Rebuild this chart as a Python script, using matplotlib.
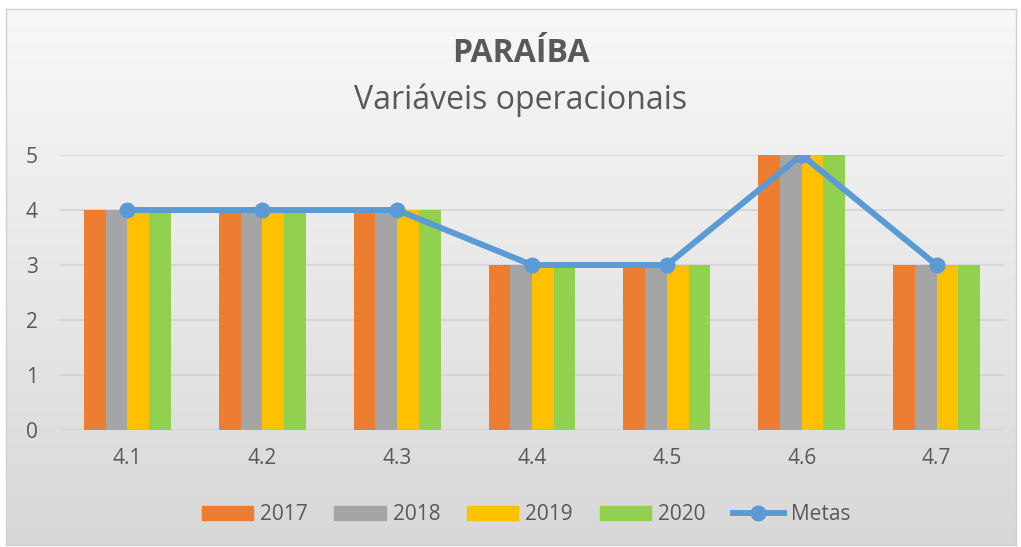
import numpy as np
import matplotlib
matplotlib.use('Agg')
from matplotlib import pyplot as plt
from matplotlib.lines import Line2D
from matplotlib.patches import Patch

# Data
categories = ['4.1', '4.2', '4.3', '4.4', '4.5', '4.6', '4.7']
v2017 = [4, 4, 4, 3, 3, 5, 3]
v2018 = [4, 4, 4, 3, 3, 5, 3]
v2019 = [4, 4, 4, 3, 3, 5, 3]
v2020 = [4, 4, 4, 3, 3, 5, 3]
metas = [4, 4, 4, 3, 3, 5, 3]

series = [('2017', v2017, '#ED7D31'),
          ('2018', v2018, '#A5A5A5'),
          ('2019', v2019, '#FFC000'),
          ('2020', v2020, '#92D050')]

plt.rcParams['font.family'] = ['Open Sans', 'DejaVu Sans']
txt = '#595959'

fig = plt.figure(figsize=(10.21, 5.47), dpi=100)
W, H = 1021, 547

# chart area: gradient background with thin border
bg = fig.add_axes([6 / W, 1 - 545 / H, 1010 / W, 536 / H], zorder=0)
grad = np.linspace(0, 1, 256).reshape(-1, 1)
top = np.array([248, 248, 248]) / 255
bot = np.array([216, 216, 216]) / 255
img = top + (bot - top) * grad[:, :, None]
bg.imshow(img, aspect='auto', extent=[0, 1, 0, 1])
bg.set_xticks([])
bg.set_yticks([])
for s in bg.spines.values():
    s.set_color('#d0d0d0')
    s.set_linewidth(1.0)

ax = fig.add_axes([60 / W, 117 / H, 944 / W, 275 / H], zorder=1)
ax.patch.set_alpha(0)
x = np.arange(len(categories))
bw = 0.161
for i, (lab, vals, col) in enumerate(series):
    ax.bar(x + (i - 1.5) * bw, vals, width=bw, color=col, label=lab, zorder=2)
ax.plot(x, metas, color='#5B9BD5', linewidth=4.3, marker='o', markersize=10.5,
        label='Metas', zorder=3, solid_joinstyle='round')

ax.set_xlim(-0.5, len(categories) - 0.5)
ax.set_ylim(0, 5)
ax.set_yticks(range(0, 6))
ax.grid(axis='y', color='#d4d4d4', linewidth=1.2, zorder=0)
ax.set_axisbelow(True)
for s in ax.spines.values():
    s.set_visible(False)
ax.tick_params(axis='both', length=0, labelsize=15, colors=txt)
ax.tick_params(axis='y', pad=16)
ax.tick_params(axis='x', pad=13)
ax.set_xticks(x)
ax.set_xticklabels(categories)

fig.text(521 / W, 1 - 54 / H, 'PARAÍBA', ha='center', va='center',
         fontsize=23, fontweight='bold', color=txt)
fig.text(521 / W, 1 - 100 / H, 'Variáveis operacionais', ha='center', va='center',
         fontsize=23, color=txt)

handles = [Patch(color=c) for _, _, c in series]
handles.append(Line2D([0], [0], color='#5B9BD5', linewidth=4.3, marker='o', markersize=10.5))
labels = [s[0] for s in series] + ['Metas']
fig.legend(handles, labels, loc='center', bbox_to_anchor=(526 / W, 1 - 515 / H),
           ncol=5, frameon=False, fontsize=15, labelcolor=txt,
           handlelength=2.45, handleheight=0.63, columnspacing=1.3, handletextpad=0.34)

plt.savefig('out.png', dpi=100)
